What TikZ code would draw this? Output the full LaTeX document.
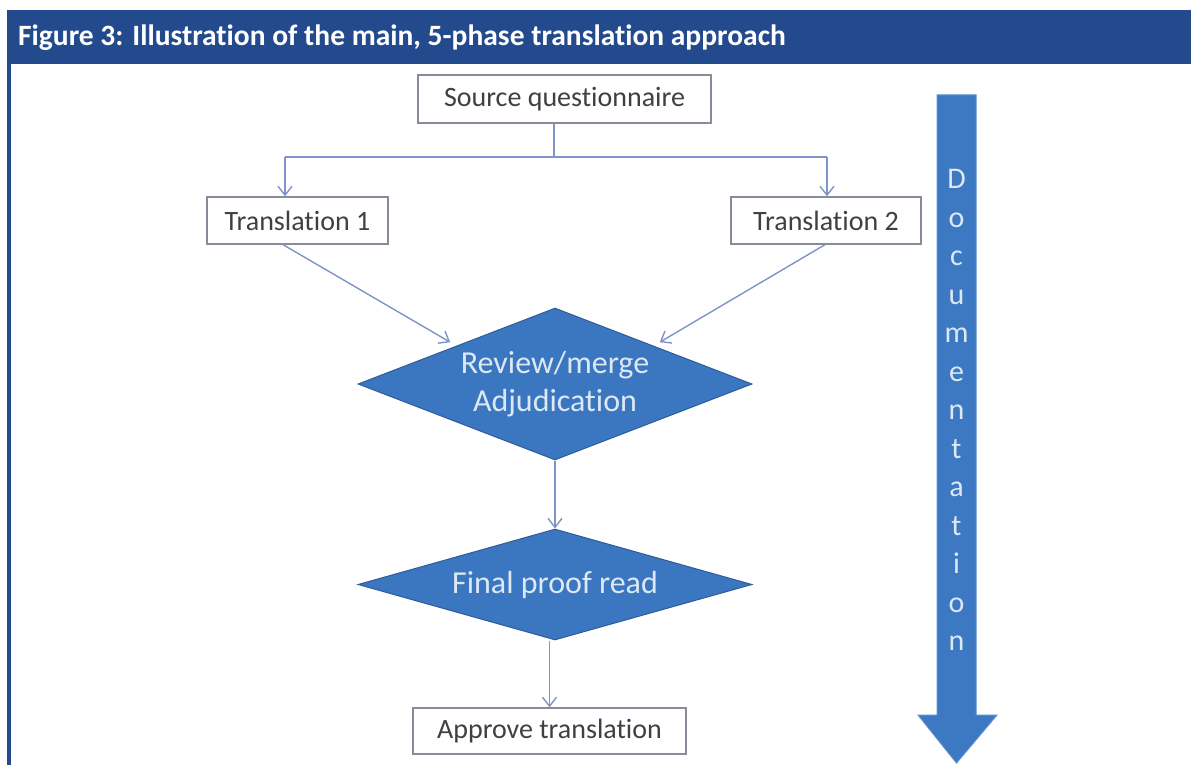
\documentclass[tikz,border=0pt]{standalone}
\usepackage{fontspec}
\setmainfont{Carlito}[Ligatures=NoCommon]
\usetikzlibrary{shapes.geometric,arrows.meta}
\definecolor{hdr}{HTML}{244A8E}
\definecolor{dfill}{HTML}{3B76C0}
\definecolor{ddraw}{HTML}{2E5C99}
\definecolor{afill}{HTML}{3D78C2}
\definecolor{adraw}{HTML}{5B8FD0}
\definecolor{conncol}{HTML}{7F93C8}
\definecolor{boxdraw}{HTML}{8A8A98}
\definecolor{boxtext}{HTML}{404040}
\definecolor{dtext}{HTML}{DDE8F5}
\tikzset{
  stepbox/.style={draw=boxdraw, line width=1.3pt, fill=white, text=boxtext,
    font=\fontsize{28}{32}\selectfont, inner sep=0pt, anchor=center},
  decide/.style={shape=diamond, draw=ddraw, line width=1pt, fill=dfill, text=dtext,
    font=\fontsize{32}{38}\selectfont, align=center, inner sep=0pt, aspect=2.6,
    minimum width=394pt, minimum height=152pt},
  conn/.style={draw=conncol, line width=1.4pt},
  arr/.style={conn, -{Straight Barb[length=9pt,width=14pt,line width=1.4pt]}},
}
\begin{document}
\begin{tikzpicture}[x=1pt,y=-1pt]
\useasboundingbox (0,0) rectangle (1191,765);
% frame
\fill[hdr] (7,10) rectangle (1191,64);
\fill[hdr] (7,64) rectangle (10.5,765);
\node[anchor=west, text=white, font=\bfseries\fontsize{29.5}{32}\selectfont, inner sep=0pt] (title) at (18,38) {Figure 3: Illustration of the main, 5-phase translation approach};
% boxes
\node[stepbox, minimum width=293pt, minimum height=48pt] (sq) at (564.5,99) {Source questionnaire};
\node[stepbox, minimum width=181pt, minimum height=47pt] (t1) at (297.5,220.5) {Translation 1};
\node[stepbox, minimum width=190pt, minimum height=47pt] (t2) at (826,220.5) {Translation 2};
\node[decide] (rev) at (555,384) {Review/merge\\Adjudication};
\node[decide, minimum height=111pt] (fin) at (555,584.5) {Final proof read};
\node[stepbox, minimum width=273pt, minimum height=46pt] (app) at (549.5,731) {Approve translation};
% documentation arrow
\draw[fill=afill, draw=adraw, line width=1pt] (937,95) -- (976,95) -- (976,715) -- (997,715) -- (956.5,763) -- (918,715) -- (937,715) -- cycle;
\node[text=dtext, font=\fontsize{30}{38.5}\selectfont, align=center, inner sep=0pt] (doc) at (956.5,410) {D\\o\\c\\u\\m\\e\\n\\t\\a\\t\\i\\o\\n};
% connectors
\coordinate (j) at (554,157);
\coordinate (jl) at (285,157);
\coordinate (jr) at (827,157);
\draw[conn] (sq.south -| j) -- (j);
\draw[conn] (jl) -- (jr);
\draw[arr] (jl) -- (t1.north -| jl);
\draw[arr] (jr) -- (t2.north -| jr);
\draw[arr, shorten >=7pt] (t1.south -| 283,0) -- (rev.north west);
\draw[arr, shorten >=7pt] (t2.south -| 825,0) -- (rev.north east);
\draw[arr] (rev.south) -- (fin.north);
\draw[arr] (fin.south -| app.north) -- (app.north);
\end{tikzpicture}
\end{document}
